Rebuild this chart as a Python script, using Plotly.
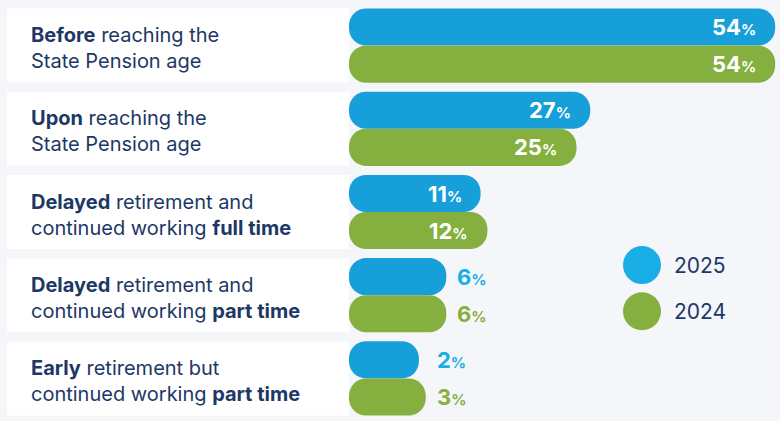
import plotly.graph_objects as go

# ---- data ----
categories = [
    "<b>Before</b> reaching the<br>State Pension age",
    "<b>Upon</b> reaching the<br>State Pension age",
    "<b>Delayed</b> retirement and<br>continued working <b>full time</b>",
    "<b>Delayed</b> retirement and<br>continued working <b>part time</b>",
    "<b>Early</b> retirement but<br>continued working <b>part time</b>",
]
series_names = ["2025", "2024"]
values_2025 = [54, 27, 11, 6, 2]
values_2024 = [54, 25, 12, 6, 3]

# ---- style ----
W, H = 780, 421
BG = "#f5f6f9"
NAVY = "#1d3866"
BLUE = "#179fda"
GREEN = "#85b040"
BLUE_LIGHT = "#1aaee6"
FONT = "Inter"
OFFSET = 8.2          # visual stub so tiny bars stay visible
XMAX = 54.7
ML, MR, MT, MB = 349, 0, 4.4, 1.4
plot_w = W - ML - MR
plot_h = H - MT - MB

ids = list(range(len(categories)))

fig = go.Figure()
for name, vals, col in [("2025", values_2025, BLUE), ("2024", values_2024, GREEN)]:
    fig.add_trace(go.Bar(
        y=ids, x=[v + OFFSET for v in vals], base=-OFFSET,
        orientation="h", name=name,
        marker=dict(color=col, line=dict(width=0), cornerradius=17),
        hoverinfo="skip", showlegend=False,
    ))

shapes = []
annotations = []
for i, cat in enumerate(categories):
    # white label box
    shapes.append(dict(type="rect", xref="paper", yref="y",
                       x0=(7 - ML) / plot_w, x1=0, y0=i - 0.445, y1=i + 0.445,
                       fillcolor="white", line=dict(width=0), layer="below"))
    annotations.append(dict(xref="paper", yref="y", x=(29 - ML) / plot_w, y=i,
                            xanchor="left", yanchor="middle", align="left",
                            yshift=-2.5,
                            text=cat, showarrow=False,
                            font=dict(family=FONT, size=20, color=NAVY)))
    v25, v24 = values_2025[i], values_2024[i]
    vmax = max(v25, v24)
    for v, shift, col in [(v25, 18.5, BLUE_LIGHT), (v24, -18.5, GREEN)]:
        txt = f"<b>{v}</b><span style='font-size:15px'><b>%</b></span>"
        if v >= 10:
            annotations.append(dict(x=v, y=i, xref="x", yref="y", xanchor="right",
                                    yanchor="middle", xshift=-17, yshift=shift,
                                    text=txt, showarrow=False,
                                    font=dict(family=FONT, size=22, color="white")))
        else:
            annotations.append(dict(x=vmax, y=i, xref="x", yref="y", xanchor="left",
                                    yanchor="middle", xshift=9, yshift=shift,
                                    text=txt, showarrow=False,
                                    font=dict(family=FONT, size=22, color=col)))

# legend (custom)
for name, col, py in [("2025", BLUE_LIGHT, 265), ("2024", GREEN, 311)]:
    yp = (H - MB - py) / plot_h
    xp = (642 - ML) / plot_w
    shapes.append(dict(type="circle", xref="paper", yref="paper",
                       xsizemode="pixel", ysizemode="pixel", xanchor=xp, yanchor=yp,
                       x0=-19, x1=19, y0=-19, y1=19,
                       fillcolor=col, line=dict(width=0)))
    annotations.append(dict(xref="paper", yref="paper", x=(672 - ML) / plot_w, y=yp,
                            xanchor="left", yanchor="middle", text=name, showarrow=False,
                            font=dict(family=FONT, size=21, color=NAVY)))

fig.update_layout(
    width=W, height=H,
    margin=dict(l=ML, r=MR, t=MT, b=MB, pad=0),
    paper_bgcolor=BG, plot_bgcolor=BG,
    barmode="group", bargap=0.108, bargroupgap=0,
    xaxis=dict(range=[-OFFSET, XMAX], visible=False, fixedrange=True),
    yaxis=dict(range=[len(categories) - 0.5, -0.5], visible=False, fixedrange=True),
    shapes=shapes, annotations=annotations,
    showlegend=False,
)

fig.write_html("out.html", config={"displayModeBar": False},
               post_script="document.body.style.margin='0';document.body.style.background='" + BG + "';")
